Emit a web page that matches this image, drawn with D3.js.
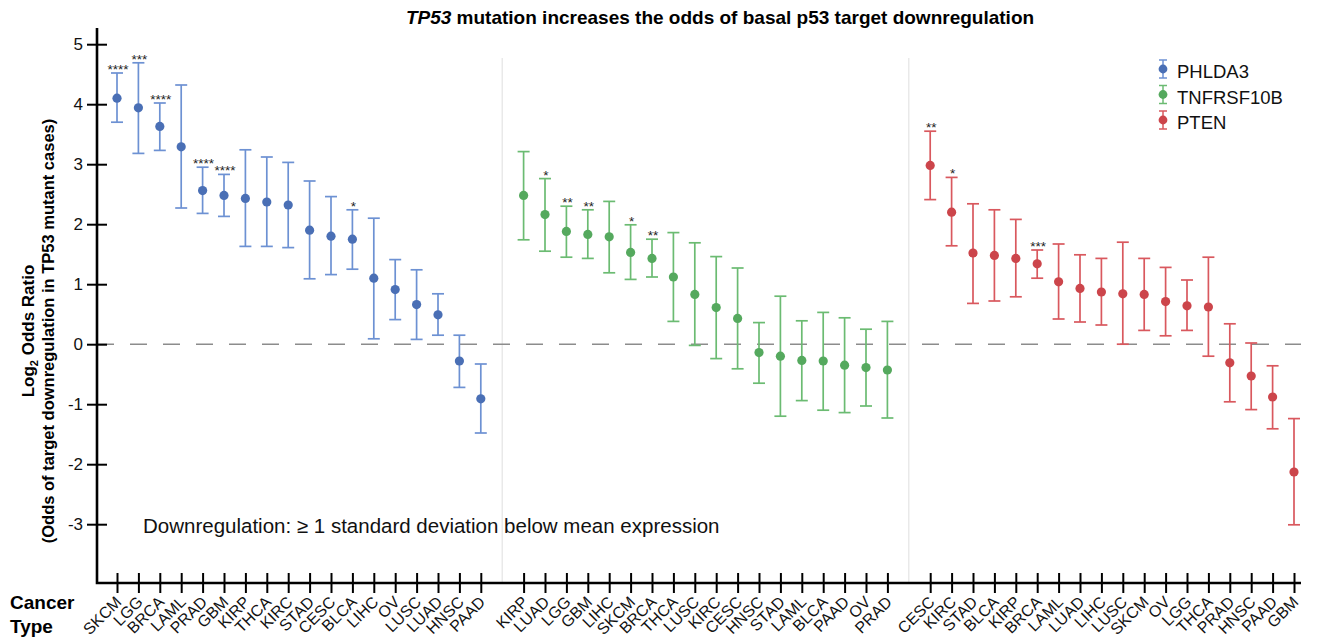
<!DOCTYPE html>
<html>
<head>
<meta charset="utf-8">
<title>TP53 odds ratio</title>
<script src="https://d3js.org/d3.v7.min.js"></script>
<style>
  body { margin: 0; background: #fff; }
  svg text { font-family: "Liberation Sans", Arial, Helvetica, sans-serif; }
</style>
</head>
<body>
<svg id="mainsvg" width="1317" height="641"></svg>
<script>
// ---- data ----
const phlda3Types = ['SKCM','LGG','BRCA','LAML','PRAD','GBM','KIRP','THCA','KIRC','STAD','CESC','BLCA','LIHC','OV','LUSC','LUAD','HNSC','PAAD'];
const phlda3Est  = [4.10, 3.94, 3.63, 3.29, 2.56, 2.48, 2.43, 2.37, 2.32, 1.90, 1.80, 1.75, 1.10, 0.91, 0.66, 0.49, -0.28, -0.91];
const phlda3Low  = [3.70, 3.18, 3.23, 2.27, 2.18, 2.13, 1.63, 1.63, 1.61, 1.09, 1.16, 1.25, 0.09, 0.41, 0.08, 0.15, -0.72, -1.48];
const phlda3High = [4.52, 4.69, 4.02, 4.32, 2.95, 2.83, 3.24, 3.12, 3.03, 2.72, 2.46, 2.24, 2.10, 1.41, 1.24, 0.84, 0.15, -0.33];
const phlda3Sig  = ['****','***','****','','****','****','','','','','','*','','','','','',''];

const tnfTypes = ['KIRP','LUAD','LGG','GBM','LIHC','SKCM','BRCA','THCA','LUSC','KIRC','CESC','HNSC','STAD','LAML','BLCA','PAAD','OV','PRAD'];
const tnfEst  = [2.48, 2.16, 1.88, 1.83, 1.79, 1.53, 1.43, 1.12, 0.83, 0.61, 0.43, -0.14, -0.20, -0.27, -0.28, -0.35, -0.39, -0.43];
const tnfLow  = [1.74, 1.55, 1.45, 1.43, 1.19, 1.08, 1.12, 0.38, -0.02, -0.24, -0.41, -0.65, -1.20, -0.94, -1.10, -1.14, -1.03, -1.23];
const tnfHigh = [3.21, 2.76, 2.30, 2.24, 2.38, 1.99, 1.75, 1.86, 1.69, 1.46, 1.27, 0.36, 0.80, 0.39, 0.53, 0.44, 0.25, 0.38];
const tnfSig  = ['','*','**','**','','*','**','','','','','','','','','','',''];

const ptenTypes = ['CESC','KIRC','STAD','BLCA','KIRP','BRCA','LAML','LUAD','LIHC','LUSC','SKCM','OV','LGG','THCA','PRAD','HNSC','PAAD','GBM'];
const ptenEst  = [2.98, 2.20, 1.52, 1.48, 1.43, 1.34, 1.04, 0.93, 0.87, 0.84, 0.83, 0.71, 0.64, 0.62, -0.31, -0.53, -0.88, -2.13];
const ptenLow  = [2.41, 1.64, 0.68, 0.72, 0.79, 1.10, 0.42, 0.37, 0.32, 0.00, 0.23, 0.14, 0.23, -0.20, -0.96, -1.09, -1.41, -3.01];
const ptenHigh = [3.55, 2.78, 2.34, 2.24, 2.08, 1.57, 1.67, 1.49, 1.43, 1.70, 1.43, 1.28, 1.07, 1.45, 0.34, 0.02, -0.36, -1.24];
const ptenSig  = ['**','*','','','','***','','','','','','','','','','','',''];

const genes = ['PHLDA3', 'TNFRSF10B', 'PTEN'];
const yTicks = [-3, -2, -1, 0, 1, 2, 3, 4, 5];

const dotColor = { PHLDA3: '#4a6fb5', TNFRSF10B: '#55a95e', PTEN: '#cc454b' };
const barColor = { PHLDA3: '#6d91d3', TNFRSF10B: '#6bbb72', PTEN: '#d9585e' };

// build one table of rows
const build = (gene, types, est, low, high, sig) => types.map((t, i) => ({
  gene: gene, key: gene + '|' + t, type: t, est: est[i], low: low[i], high: high[i], sig: sig[i]
}));
const groups = [
  build('PHLDA3', phlda3Types, phlda3Est, phlda3Low, phlda3High, phlda3Sig),
  build('TNFRSF10B', tnfTypes, tnfEst, tnfLow, tnfHigh, tnfSig),
  build('PTEN', ptenTypes, ptenEst, ptenLow, ptenHigh, ptenSig)
];
const rows = groups.flat();

// slot keys with one empty slot between groups
const keys = [];
groups.forEach((g, gi) => {
  g.forEach(d => keys.push(d.key));
  if (gi < groups.length - 1) keys.push('gap' + gi);
});

const svg = d3.select('#mainsvg');
const axisLeftX = 97, axisBottomY = 583, axisTopY = 28, axisRightX = 1301;

const x = d3.scalePoint().domain(keys).range([117, 1294]);
const y = d3.scaleLinear().domain([-3.98, 5.27]).range([axisBottomY, axisTopY]);

// title
const title = svg.append('text')
  .attr('x', 720).attr('y', 24)
  .attr('text-anchor', 'middle')
  .attr('font-size', '19px').attr('font-weight', 'bold');
title.append('tspan').attr('font-style', 'italic').text('TP53');
title.append('tspan').text(' mutation increases the odds of basal p53 target downregulation');

// group dividers
['gap0', 'gap1'].forEach(k => {
  svg.append('line')
    .attr('x1', x(k)).attr('x2', x(k))
    .attr('y1', 58).attr('y2', axisBottomY)
    .attr('stroke', '#e4e4e4').attr('stroke-width', 1.2);
});

// zero reference line
svg.append('line')
  .attr('x1', axisLeftX).attr('x2', axisRightX)
  .attr('y1', y(0)).attr('y2', y(0))
  .attr('stroke', '#8c8c8c').attr('stroke-width', 1.4)
  .attr('stroke-dasharray', '17,16');

// axes
const yAxis = d3.axisLeft(y).tickValues(yTicks).tickSize(10).tickPadding(4).tickFormat(d => String(d));
const yg = svg.append('g').attr('transform', `translate(${axisLeftX},0)`).call(yAxis);
yg.select('.domain').remove();
yg.selectAll('.tick line').attr('stroke', '#000').attr('stroke-width', 2);
yg.selectAll('.tick').append('line').attr('x1', 0).attr('x2', 10).attr('stroke', '#000').attr('stroke-width', 2);
yg.selectAll('.tick text').attr('font-size', '17px').attr('fill', '#111')
  .style('font-family', '"Liberation Sans", Arial, sans-serif');

const xAxis = d3.axisBottom(x)
  .tickValues(keys.filter(k => !k.startsWith('gap')))
  .tickSize(10)
  .tickFormat(k => k.split('|')[1]);
const xg = svg.append('g').attr('transform', `translate(0,${axisBottomY})`).call(xAxis);
xg.select('.domain').remove();
xg.selectAll('.tick line').attr('stroke', '#000').attr('stroke-width', 2);
xg.selectAll('.tick').append('line').attr('y1', 0).attr('y2', -10).attr('stroke', '#000').attr('stroke-width', 2);
xg.selectAll('.tick text')
  .attr('x', 0).attr('y', 0).attr('dy', 0)
  .attr('text-anchor', 'end')
  .attr('transform', 'translate(5,20) rotate(-45)')
  .attr('font-size', '16px').attr('fill', '#111')
  .style('font-family', '"Liberation Sans", Arial, sans-serif');

svg.append('path')
  .attr('d', `M${axisLeftX},${axisTopY}V${axisBottomY}H${axisRightX}`)
  .attr('fill', 'none').attr('stroke', '#000').attr('stroke-width', 2.6);

// axis titles
const yl = svg.append('g').attr('transform', 'translate(34,331) rotate(-90)');
const l1 = yl.append('text').attr('text-anchor', 'middle').attr('font-size', '17px').attr('font-weight', 'bold');
l1.append('tspan').text('Log');
l1.append('tspan').attr('font-size', '11px').attr('dy', 4).text('2');
l1.append('tspan').attr('dy', -4).text(' Odds Ratio');
yl.append('text').attr('y', 20).attr('text-anchor', 'middle')
  .attr('font-size', '16.5px').attr('font-weight', 'bold')
  .text('(Odds of target downregulation in TP53 mutant cases)');

svg.append('text').attr('x', 10).attr('y', 609).attr('font-size', '19px').attr('font-weight', 'bold').text('Cancer');
svg.append('text').attr('x', 10).attr('y', 633).attr('font-size', '19px').attr('font-weight', 'bold').text('Type');

svg.append('text').attr('x', 143).attr('y', 533).attr('font-size', '20.5px').attr('fill', '#111')
  .text('Downregulation: \u2265 1 standard deviation below mean expression');

// error bars, dots, stars
const marks = svg.append('g');
const cap = 6;
const pt = marks.selectAll('g.pt').data(rows).join('g').attr('class', 'pt');
pt.append('line')
  .attr('x1', d => x(d.key)).attr('x2', d => x(d.key))
  .attr('y1', d => y(d.low)).attr('y2', d => y(d.high))
  .attr('stroke', d => barColor[d.gene]).attr('stroke-width', 1.7);
pt.append('line')
  .attr('x1', d => x(d.key) - cap).attr('x2', d => x(d.key) + cap)
  .attr('y1', d => y(d.low)).attr('y2', d => y(d.low))
  .attr('stroke', d => barColor[d.gene]).attr('stroke-width', 1.7);
pt.append('line')
  .attr('x1', d => x(d.key) - cap).attr('x2', d => x(d.key) + cap)
  .attr('y1', d => y(d.high)).attr('y2', d => y(d.high))
  .attr('stroke', d => barColor[d.gene]).attr('stroke-width', 1.7);
pt.append('circle')
  .attr('cx', d => x(d.key)).attr('cy', d => y(d.est)).attr('r', 4.6)
  .attr('fill', d => dotColor[d.gene]);
pt.filter(d => d.sig).append('text')
  .attr('x', d => x(d.key) + 1).attr('y', d => y(d.high) + 1)
  .attr('text-anchor', 'middle').attr('font-size', '13.5px').attr('fill', '#222')
  .text(d => d.sig);

// legend
const lg = svg.append('g').attr('transform', 'translate(1163,69)');
const li = lg.selectAll('g').data(genes).join('g').attr('transform', (d, i) => `translate(0,${i * 25.5})`);
li.append('line').attr('y1', -9).attr('y2', 9).attr('stroke', d => barColor[d]).attr('stroke-width', 1.5);
li.append('line').attr('x1', -4).attr('x2', 4).attr('y1', -9).attr('y2', -9).attr('stroke', d => barColor[d]).attr('stroke-width', 1.5);
li.append('line').attr('x1', -4).attr('x2', 4).attr('y1', 9).attr('y2', 9).attr('stroke', d => barColor[d]).attr('stroke-width', 1.5);
li.append('circle').attr('r', 4.4).attr('fill', d => dotColor[d]);
li.append('text').attr('x', 14).attr('y', 9).attr('font-size', '18.5px').attr('fill', '#111').text(d => d);
</script>
</body>
</html>
